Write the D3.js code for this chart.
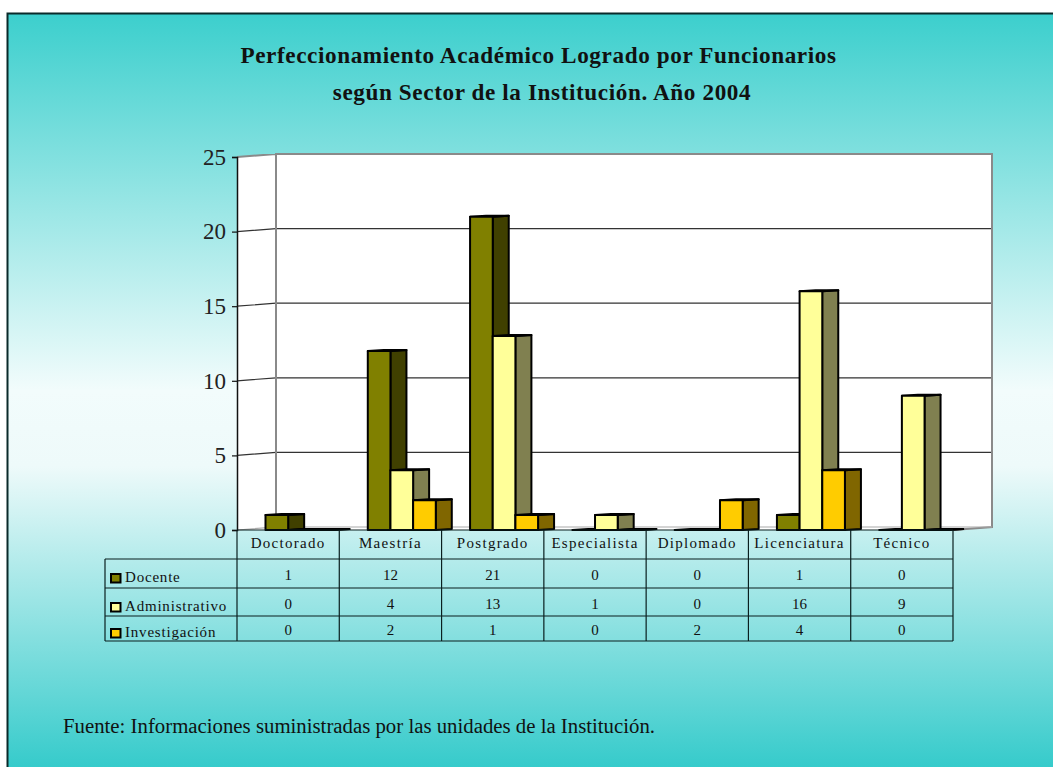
<!DOCTYPE html>
<html>

<head>
  <meta charset="utf-8">
  <title>Perfeccionamiento Académico</title>
  <style>
    html, body { margin: 0; padding: 0; background: #fff; overflow: hidden; }
    svg { display: block; }
    text { font-family: "Liberation Serif", serif; fill: #111; }
  </style>
  <script src="https://d3js.org/d3.v7.min.js"></script>
</head>

<body>
  <svg id="chart" width="1053" height="767"></svg>
  <script>
    const categories = ["Doctorado", "Maestría", "Postgrado", "Especialista", "Diplomado", "Licenciatura", "Técnico"];
    const seriesNames = ["Docente", "Administrativo", "Investigación"];
    const docente = [1, 12, 21, 0, 0, 1, 0];
    const administrativo = [0, 4, 13, 1, 0, 16, 9];
    const investigacion = [0, 2, 1, 0, 2, 4, 0];
    const seriesValues = [docente, administrativo, investigacion];
    const tickLabels = [0, 5, 10, 15, 20, 25];

    const frontColors = ["#808000", "#ffff99", "#ffcc00"];
    const sideColors = ["#404000", "#808050", "#806600"];

    const svg = d3.select("#chart");

    // background
    const defs = svg.append("defs");
    const grad = defs.append("linearGradient").attr("id", "bg").attr("x1", 0).attr("y1", 0).attr("x2", 0).attr("y2", 1);
    grad.append("stop").attr("offset", "0%").attr("stop-color", "#3ccfcd");
    grad.append("stop").attr("offset", "50%").attr("stop-color", "#f2fcfc");
    grad.append("stop").attr("offset", "60%").attr("stop-color", "#eefafa");
    grad.append("stop").attr("offset", "100%").attr("stop-color", "#36cbcb");

    svg.append("rect").attr("x", 8).attr("y", 14).attr("width", 1045).attr("height", 753).attr("fill", "url(#bg)");
    svg.append("path").attr("d", "M7.5,767V13.5H1053").attr("fill", "none").attr("stroke", "#0a2a2a").attr("stroke-width", 2);

    // titles
    svg.append("text").attr("x", 538.5).attr("y", 63).attr("text-anchor", "middle")
      .style("font-size", "23.2px").style("font-weight", "bold").style("letter-spacing", "0.6px")
      .text("Perfeccionamiento Académico Logrado por Funcionarios");
    svg.append("text").attr("x", 542).attr("y", 100).attr("text-anchor", "middle")
      .style("font-size", "23.2px").style("font-weight", "bold").style("letter-spacing", "0.6px")
      .text("según Sector de la Institución. Año 2004");

    // scales
    const margin = { left: 237, right: 953, top: 157, bottom: 530 };
    const wallDx = 39, wallDy = -3;
    const barDx = 16, barDy = -1;

    const y = d3.scaleLinear().domain([0, 25]).range([margin.bottom, margin.top]);
    const x = d3.scaleBand().domain(categories).range([margin.left, margin.right]);
    const xBar = d3.scaleBand().domain(seriesNames).range([28.5, 96.5]);

    // walls and floor
    const wall = svg.append("g");
    const top25 = y(25), base = y(0);
    wall.append("path")
      .attr("d", `M${margin.left},${base}V${top25}L${margin.left + wallDx},${top25 + wallDy}H${margin.right + wallDx}V${base + wallDy}L${margin.right},${base}Z`)
      .attr("fill", "#fff");

    // gridlines
    wall.selectAll("path.grid").data(tickLabels.slice(1, 5)).enter().append("path")
      .attr("class", "grid")
      .attr("d", d => `M${margin.left},${y(d)}L${margin.left + wallDx},${y(d) + wallDy}H${margin.right + wallDx}`)
      .attr("fill", "none").attr("stroke", "#333").attr("stroke-width", 1.2);

    // back wall outline
    wall.append("path")
      .attr("d", `M${margin.left},${top25}L${margin.left + wallDx},${top25 + wallDy}M${margin.left + wallDx},${base + wallDy}V${top25 + wallDy}H${margin.right + wallDx}V${base + wallDy}L${margin.right},${base}`)
      .attr("fill", "none").attr("stroke", "#8a8a8a").attr("stroke-width", 2);
    wall.append("path")
      .attr("d", `M${margin.left},${base}L${margin.left + wallDx},${base + wallDy}H${margin.right + wallDx}`)
      .attr("fill", "none").attr("stroke", "#aaa").attr("stroke-width", 1.2);

    // y axis
    const axis = svg.append("g")
      .attr("transform", `translate(${margin.left},0)`)
      .call(d3.axisLeft(y).tickValues(tickLabels).tickSize(5).tickPadding(6));
    axis.select(".domain").attr("stroke", "#111").attr("stroke-width", 1.5);
    axis.selectAll(".tick line").attr("stroke", "#111").attr("stroke-width", 1.2);
    axis.selectAll(".tick text")
      .style("font-family", '"Liberation Serif", serif')
      .style("font-size", "23px").style("fill", "#222");

    // bars, left to right so each one covers the side of the previous
    const barsG = svg.append("g").attr("stroke", "#000").attr("stroke-width", 2).attr("stroke-linejoin", "round");
    categories.forEach(function (cat, c) {
      seriesNames.forEach(function (name, s) {
        const v = seriesValues[s][c];
        const x0 = x(cat) + xBar(name);
        const x1 = x0 + xBar.bandwidth();
        const yTop = y(v);
        // side face
        barsG.append("path")
          .attr("d", `M${x1},${base}V${yTop}L${x1 + barDx},${yTop + barDy}V${base + barDy}Z`)
          .attr("fill", sideColors[s]);
        // top face
        barsG.append("path")
          .attr("d", `M${x0},${yTop}L${x0 + barDx},${yTop + barDy}H${x1 + barDx}L${x1},${yTop}Z`)
          .attr("fill", sideColors[s]);
        // front face
        if (v > 0) {
          barsG.append("rect")
            .attr("x", x0).attr("y", yTop)
            .attr("width", xBar.bandwidth()).attr("height", base - yTop)
            .attr("fill", frontColors[s]);
        }
      });
    });

    // data table
    const rowY = [530, 559, 588, 616, 641];
    const tableLeft = 105;
    const table = svg.append("g").attr("stroke", "#0a1f1f").attr("stroke-width", 1.2);
    table.append("line").attr("x1", margin.left).attr("x2", margin.right).attr("y1", rowY[0]).attr("y2", rowY[0]);
    rowY.slice(1).forEach(function (ry) {
      table.append("line").attr("x1", tableLeft).attr("x2", margin.right).attr("y1", ry).attr("y2", ry);
    });
    table.append("line").attr("x1", tableLeft).attr("x2", tableLeft).attr("y1", rowY[1]).attr("y2", rowY[4]);
    x.domain().concat([null]).forEach(function (cat) {
      const vx = cat === null ? margin.right : x(cat);
      table.append("line").attr("x1", vx).attr("x2", vx).attr("y1", rowY[0]).attr("y2", rowY[4]);
    });

    const labels = svg.append("g").style("font-size", "15px");
    labels.selectAll("text.cat").data(categories).enter().append("text")
      .attr("class", "cat")
      .attr("x", d => x(d) + x.bandwidth() / 2)
      .attr("y", 548)
      .attr("text-anchor", "middle")
      .style("letter-spacing", "1.3px")
      .text(d => d);

    seriesNames.forEach(function (name, s) {
      const shift = s === 2 ? 2 : 0;
      labels.append("rect")
        .attr("x", 111).attr("y", rowY[s + 1] + 15 - shift)
        .attr("width", 9.5).attr("height", 8.5)
        .attr("fill", frontColors[s]).attr("stroke", "#000").attr("stroke-width", 2);
      labels.append("text")
        .attr("x", 125).attr("y", rowY[s + 1] + 23 - shift)
        .style("letter-spacing", "0.8px")
        .text(name);
      labels.selectAll("text.v" + s).data(seriesValues[s]).enter().append("text")
        .attr("class", "v" + s)
        .attr("x", (d, i) => x(categories[i]) + x.bandwidth() / 2)
        .attr("y", rowY[s + 1] + 21 - shift)
        .attr("text-anchor", "middle")
        .text(d => d);
    });

    // source note
    svg.append("text").attr("x", 63).attr("y", 733)
      .style("font-size", "20.8px")
      .text("Fuente: Informaciones suministradas por las unidades de la Institución.");
  </script>
</body>

</html>
